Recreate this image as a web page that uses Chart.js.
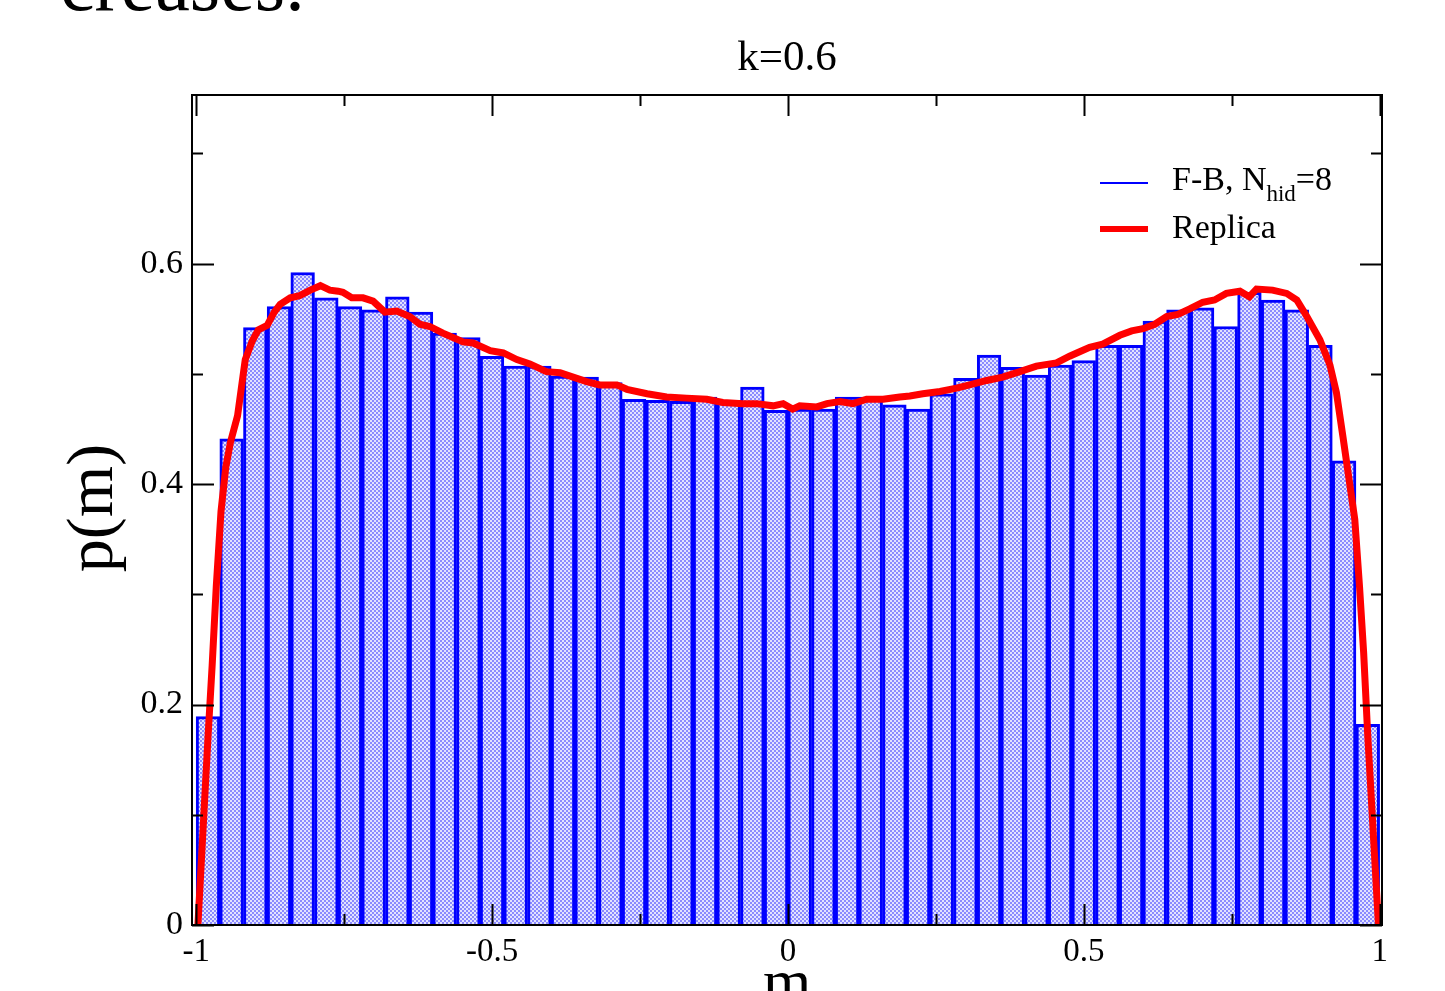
<!DOCTYPE html>
<html>
<head>
<meta charset="utf-8">
<script src="https://cdn.jsdelivr.net/npm/chart.js@4.4.1/dist/chart.umd.min.js"></script>
<style>
  html, body { margin: 0; padding: 0; background: #fff; }
  #wrap { width: 1445px; height: 991px; position: relative; }
</style>
</head>
<body>
<div id="wrap"><canvas id="histChart"></canvas></div>
<script>
// histogram F-B, N_hid=8 : 50 bins of width 0.04 on [-1, 1]
const binCenters = [
  -0.98, -0.94, -0.90, -0.86, -0.82, -0.78, -0.74, -0.70, -0.66, -0.62,
  -0.58, -0.54, -0.50, -0.46, -0.42, -0.38, -0.34, -0.30, -0.26, -0.22,
  -0.18, -0.14, -0.10, -0.06, -0.02, 0.02, 0.06, 0.10, 0.14, 0.18,
  0.22, 0.26, 0.30, 0.34, 0.38, 0.42, 0.46, 0.50, 0.54, 0.58,
  0.62, 0.66, 0.70, 0.74, 0.78, 0.82, 0.86, 0.90, 0.94, 0.98
];
const fbValues = [
  0.189, 0.441, 0.542, 0.561, 0.592, 0.569, 0.561, 0.558, 0.570, 0.556,
  0.537, 0.533, 0.516, 0.507, 0.507, 0.498, 0.497, 0.492, 0.477, 0.476,
  0.475, 0.479, 0.476, 0.488, 0.467, 0.468, 0.468, 0.479, 0.479, 0.472,
  0.468, 0.482, 0.496, 0.517, 0.506, 0.499, 0.508, 0.512, 0.526, 0.526,
  0.548, 0.558, 0.560, 0.543, 0.574, 0.567, 0.558, 0.526, 0.421, 0.182
];

// replica curve
const replicaM = [
  -0.997, -0.980, -0.973, -0.966, -0.958, -0.950, -0.942, -0.930, -0.917, -0.905,
  -0.895, -0.880, -0.868, -0.858, -0.841, -0.825, -0.807, -0.790, -0.774, -0.760,
  -0.752, -0.737, -0.718, -0.701, -0.681, -0.661, -0.639, -0.622, -0.605, -0.583,
  -0.566, -0.549, -0.532, -0.503, -0.481, -0.458, -0.436, -0.408, -0.385, -0.363,
  -0.340, -0.318, -0.289, -0.272, -0.238, -0.205, -0.171, -0.137, -0.110, -0.076,
  -0.053, -0.025, -0.008, 0.008, 0.020, 0.049, 0.066, 0.088, 0.110, 0.133,
  0.161, 0.189, 0.206, 0.228, 0.257, 0.285, 0.307, 0.336, 0.363, 0.392,
  0.420, 0.454, 0.476, 0.493, 0.510, 0.532, 0.561, 0.581, 0.600, 0.620,
  0.640, 0.659, 0.679, 0.701, 0.721, 0.741, 0.764, 0.780, 0.792, 0.819,
  0.843, 0.860, 0.877, 0.899, 0.916, 0.927, 0.938, 0.946, 0.958, 0.966,
  0.973, 0.980, 0.998
];
const replicaP = [
  0.000, 0.170, 0.235, 0.307, 0.375, 0.415, 0.438, 0.462, 0.513, 0.530,
  0.540, 0.544, 0.556, 0.563, 0.569, 0.571, 0.576, 0.580, 0.576, 0.575,
  0.574, 0.569, 0.569, 0.566, 0.556, 0.557, 0.552, 0.545, 0.543, 0.537,
  0.533, 0.529, 0.528, 0.521, 0.519, 0.513, 0.509, 0.502, 0.501, 0.497,
  0.493, 0.490, 0.490, 0.486, 0.482, 0.479, 0.478, 0.477, 0.474, 0.473,
  0.473, 0.471, 0.473, 0.468, 0.471, 0.470, 0.473, 0.475, 0.473, 0.477,
  0.477, 0.479, 0.480, 0.482, 0.484, 0.487, 0.490, 0.494, 0.497, 0.502,
  0.507, 0.510, 0.516, 0.520, 0.524, 0.527, 0.535, 0.539, 0.541, 0.545,
  0.552, 0.554, 0.559, 0.565, 0.567, 0.573, 0.575, 0.570, 0.577, 0.576,
  0.573, 0.567, 0.552, 0.531, 0.508, 0.483, 0.443, 0.413, 0.368, 0.307,
  0.247, 0.171, 0.000
];

const xTicks = [-1, -0.5, 0, 0.5, 1];
const xMinorTicks = [-0.75, -0.25, 0.25, 0.75];
const yTicks = [0, 0.2, 0.4, 0.6];
const yMinorTicks = [0.1, 0.3, 0.5, 0.7];

const SERIF = '"Liberation Serif", "DejaVu Serif", serif';

// dotted light blue fill like the original
function dotPattern() {
  const c = document.createElement('canvas');
  c.width = 4; c.height = 4;
  const g = c.getContext('2d');
  g.fillStyle = '#e2e2ff';
  g.fillRect(0, 0, 4, 4);
  g.fillStyle = '#8a8aff';
  g.fillRect(0, 0, 2, 2);
  g.fillRect(2, 2, 2, 2);
  return g.createPattern(c, 'repeat');
}

// frame, inward ticks on all four sides, and the texts
const framePlugin = {
  id: 'framePlugin',
  afterDraw(chart) {
    const { ctx, chartArea: a, scales: { x, y } } = chart;
    ctx.save();
    ctx.strokeStyle = '#000';
    ctx.lineWidth = 2;
    ctx.strokeRect(a.left, a.top, a.right - a.left, a.bottom - a.top);

    ctx.beginPath();
    const xt = (vals, len) => vals.forEach(v => {
      const px = Math.round(x.getPixelForValue(v)) + 0.5;
      ctx.moveTo(px, a.bottom); ctx.lineTo(px, a.bottom - len);
      ctx.moveTo(px, a.top); ctx.lineTo(px, a.top + len);
    });
    const yt = (vals, len) => vals.forEach(v => {
      const py = Math.round(y.getPixelForValue(v)) + 0.5;
      ctx.moveTo(a.left, py); ctx.lineTo(a.left + len, py);
      ctx.moveTo(a.right, py); ctx.lineTo(a.right - len, py);
    });
    xt(xTicks, 21); xt(xMinorTicks, 11);
    yt(yTicks, 22); yt(yMinorTicks, 11);
    ctx.stroke();

    ctx.fillStyle = '#000';
    // cut-off text from the page above
    ctx.font = '78px ' + SERIF;
    ctx.textAlign = 'left';
    ctx.textBaseline = 'alphabetic';
    ctx.fillText('creases.', 60, 10);

    // title
    ctx.font = '43px ' + SERIF;
    ctx.textAlign = 'center';
    ctx.fillText('k=0.6', (a.left + a.right) / 2, 70);

    // axis titles
    ctx.font = '62px ' + SERIF;
    ctx.fillText('m', (a.left + a.right) / 2, 1002);
    ctx.save();
    ctx.font = '66px ' + SERIF;
    ctx.translate(112, 508);
    ctx.rotate(-Math.PI / 2);
    ctx.fillText('p(m)', 0, 0);
    ctx.restore();

    // legend
    ctx.lineWidth = 2;
    ctx.strokeStyle = '#0000ff';
    ctx.beginPath(); ctx.moveTo(1100, 183); ctx.lineTo(1148, 183); ctx.stroke();
    ctx.lineWidth = 6;
    ctx.strokeStyle = '#ff0000';
    ctx.beginPath(); ctx.moveTo(1100, 229); ctx.lineTo(1148, 229); ctx.stroke();
    ctx.textAlign = 'left';
    ctx.font = '34px ' + SERIF;
    let tx = 1172;
    ctx.fillText('F-B, N', tx, 190);
    tx += ctx.measureText('F-B, N').width;
    ctx.font = '23px ' + SERIF;
    ctx.fillText('hid', tx, 201);
    tx += ctx.measureText('hid').width;
    ctx.font = '34px ' + SERIF;
    ctx.fillText('=8', tx, 190);
    ctx.fillText('Replica', 1172, 238);
    ctx.restore();
  }
};

const ctx = document.getElementById('histChart');

new Chart(ctx, {
  type: 'bar',
  data: {
    datasets: [
      {
        type: 'line',
        label: 'Replica',
        data: replicaM.map((m, i) => ({ x: m, y: replicaP[i] })),
        borderColor: '#ff0000',
        borderWidth: 7,
        pointRadius: 0,
        tension: 0,
        fill: false,
        order: 0
      },
      {
        label: 'F-B, N_hid=8',
        data: binCenters.map((m, i) => ({ x: m, y: fbValues[i] })),
        backgroundColor: dotPattern(),
        borderColor: '#0000ff',
        borderWidth: 3,
        barPercentage: 1,
        categoryPercentage: 1,
        order: 1
      }
    ]
  },
  options: {
    responsive: true,
    maintainAspectRatio: false,
    animation: false,
    layout: { padding: { left: 0, right: 63, top: 95, bottom: 0 } },
    plugins: {
      legend: { display: false },
      tooltip: { enabled: false }
    },
    scales: {
      x: {
        type: 'linear',
        min: -1.007,
        max: 1.004,
        offset: false,
        grid: { display: false, drawTicks: false },
        border: { display: false },
        afterFit: s => { s.height = 66; },
        afterBuildTicks: s => { s.ticks = xTicks.map(v => ({ value: v })); },
        ticks: {
          color: '#000',
          padding: 8,
          maxRotation: 0,
          font: { family: SERIF, size: 33 },
          callback: v => String(v)
        }
      },
      y: {
        min: 0,
        max: 0.753,
        grid: { display: false, drawTicks: false },
        border: { display: false },
        afterFit: s => { s.width = 192; },
        afterBuildTicks: s => { s.ticks = yTicks.map(v => ({ value: v })); },
        ticks: {
          color: '#000',
          padding: 9,
          font: { family: SERIF, size: 34 },
          callback: v => String(v)
        }
      }
    }
  },
  plugins: [framePlugin]
});
</script>
</body>
</html>
